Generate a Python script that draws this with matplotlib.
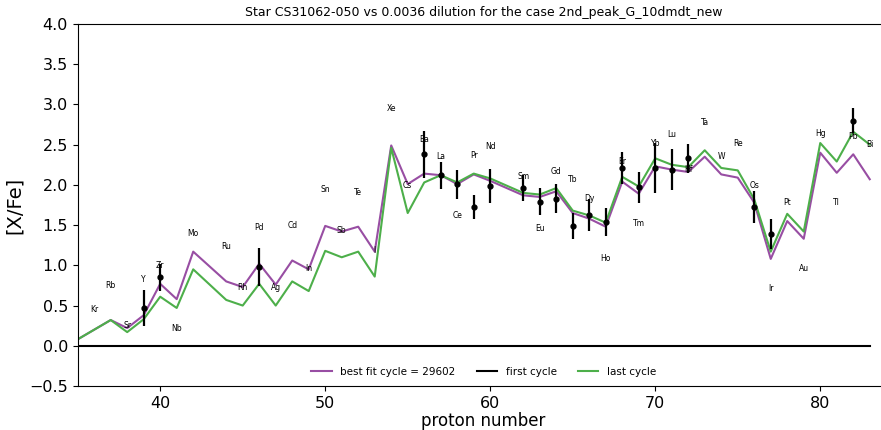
import matplotlib
matplotlib.use("Agg")
import matplotlib.pyplot as plt

# model curves (proton number vs [X/Fe])
z_model = [35, 36, 37, 38, 39, 40, 41, 42, 44, 45, 46, 47, 48, 49, 50, 51, 52, 53,
           54, 55, 56, 57, 58, 59, 60, 62, 63, 64, 65, 66, 67, 68, 69, 70, 71, 72,
           73, 74, 75, 76, 77, 78, 79, 80, 81, 82, 83]
best_fit = [0.08, 0.20, 0.32, 0.22, 0.38, 0.77, 0.58, 1.17, 0.80, 0.73, 1.02, 0.76,
            1.06, 0.95, 1.49, 1.42, 1.48, 1.17, 2.49, 2.01, 2.14, 2.12, 2.01, 2.13,
            2.05, 1.87, 1.85, 1.92, 1.65, 1.58, 1.48, 2.04, 1.89, 2.23, 2.19, 2.16,
            2.35, 2.13, 2.09, 1.78, 1.08, 1.55, 1.33, 2.40, 2.15, 2.38, 2.07]
last_cycle = [0.08, 0.20, 0.32, 0.17, 0.33, 0.61, 0.47, 0.95, 0.57, 0.50, 0.77, 0.50,
              0.80, 0.68, 1.18, 1.10, 1.17, 0.86, 2.46, 1.65, 2.03, 2.12, 2.03, 2.14,
              2.08, 1.90, 1.88, 1.96, 1.68, 1.62, 1.53, 2.10, 1.98, 2.33, 2.25, 2.22,
              2.43, 2.21, 2.18, 1.82, 1.17, 1.64, 1.42, 2.52, 2.29, 2.66, 2.50]
first_cycle = [0.0] * len(z_model)

# observed abundances
z_obs = [39, 40, 46, 56, 57, 58, 59, 60, 62, 63, 64, 65, 66, 67, 68, 69, 70, 71, 72,
         76, 77, 82]
obs = [0.47, 0.85, 0.98, 2.38, 2.12, 2.01, 1.73, 1.99, 1.96, 1.79, 1.83, 1.49, 1.63,
       1.54, 2.21, 1.97, 2.21, 2.19, 2.33, 1.72, 1.39, 2.80]
obs_err = [0.22, 0.17, 0.24, 0.29, 0.17, 0.18, 0.15, 0.21, 0.16, 0.17, 0.18, 0.16,
           0.20, 0.17, 0.20, 0.19, 0.31, 0.26, 0.18, 0.20, 0.19, 0.16]

# element name labels
z_lab = [36, 37, 38, 39, 40, 41, 42, 44, 45, 46, 47, 48, 49, 50, 51, 52, 53, 54, 55,
         56, 57, 58, 59, 60, 62, 63, 64, 65, 66, 67, 68, 69, 70, 71, 72, 73, 74, 75,
         76, 77, 78, 79, 80, 81, 82, 83]
names = ['Kr', 'Rb', 'Sr', 'Y', 'Zr', 'Nb', 'Mo', 'Ru', 'Rh', 'Pd', 'Ag', 'Cd', 'In',
         'Sn', 'Sb', 'Te', 'I', 'Xe', 'Cs', 'Ba', 'La', 'Ce', 'Pr', 'Nd', 'Sm', 'Eu',
         'Gd', 'Tb', 'Dy', 'Ho', 'Er', 'Tm', 'Yb', 'Lu', 'Hf', 'Ta', 'W', 'Re', 'Os',
         'Ir', 'Pt', 'Au', 'Hg', 'Tl', 'Pb', 'Bi']
lab_y = [0.45, 0.75, 0.25, 0.82, 1.00, 0.22, 1.40, 1.23, 0.73, 1.47, 0.73, 1.49, 0.96,
         1.94, 1.43, 1.91, 1.18, 2.95, 1.99, 2.56, 2.35, 1.62, 2.36, 2.48, 2.10, 1.46,
         2.16, 2.07, 1.83, 1.09, 2.29, 1.52, 2.51, 2.63, 2.19, 2.78, 2.35, 2.52, 1.99,
         0.71, 1.78, 0.96, 2.64, 1.78, 2.60, 2.50]

fig = plt.figure(figsize=(8.81, 4.30), dpi=100)
ax = fig.add_axes([0.0882, 0.1023, 0.9215, 0.842])

ax.plot(z_model, best_fit, color='#984ea3', lw=1.5, label='best fit cycle = 29602')
ax.plot(z_model, first_cycle, color='black', lw=1.5, label='first cycle')
ax.plot(z_model, last_cycle, color='#4daf4a', lw=1.5, label='last cycle')
ax.errorbar(z_obs, obs, yerr=obs_err, fmt='o', color='black', ms=3.5,
            elinewidth=1.6, capsize=0, zorder=5)

for z, n, y in zip(z_lab, names, lab_y):
    ax.text(z, y, n, fontsize=5.5, ha='center', va='center')

ax.set_xlim(35, 84.2)
ax.set_ylim(-0.5, 4.0)
ax.tick_params(labelsize=11.5)
ax.set_xlabel('proton number', fontsize=12, labelpad=1)
ax.set_ylabel('[X/Fe]', fontsize=14)
ax.set_title('Star CS31062-050 vs 0.0036 dilution for the case 2nd_peak_G_10dmdt_new',
             fontsize=9)
ax.legend(loc='lower center', ncol=3, frameon=False, fontsize=7.5)

fig.savefig('out.png', dpi=100)
